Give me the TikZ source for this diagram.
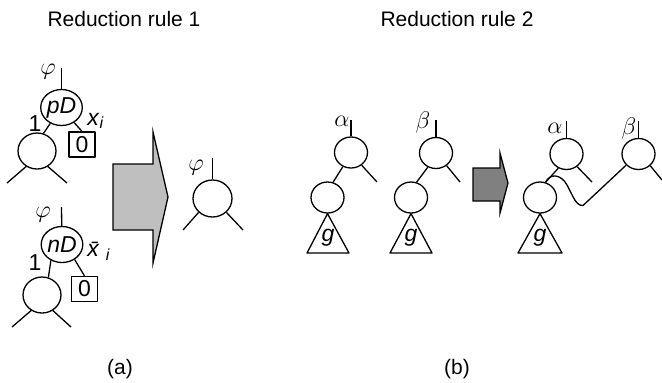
\documentclass[tikz,border=0pt]{standalone}
\usepackage{fontspec}
\setmainfont{Liberation Sans}
\usetikzlibrary{shapes.geometric}
\begin{document}
\begin{tikzpicture}[x=0.5pt,y=-0.5pt, line width=0.65pt, line join=round,
  every node/.style={font=\fontsize{10.5}{12}\selectfont, inner sep=0pt},
  lbl/.style={font=\fontsize{11.5}{12}\selectfont},
  bigc/.style={draw, ellipse, minimum width=19pt, minimum height=18pt, font=\fontsize{11.5}{12}\selectfont},
  smallc/.style={draw, ellipse, minimum width=16.5pt, minimum height=15.5pt},
  zbox/.style={draw, rectangle, minimum width=13pt, minimum height=12.5pt, font=\fontsize{11.5}{12}\selectfont},
  mlab/.style={font=\fontsize{13}{14}\selectfont},
  bigarrow/.style={draw, line join=miter}]
\useasboundingbox (0,0) rectangle (662,382);

% titles
\node (t1) at (124,19) {Reduction rule 1};
\node (t2) at (457,19) {Reduction rule 2};

% ---------- (a) top tree ----------
\coordinate (s1) at (61.5,68);
\node[bigc] (pd) at (61.5,107.5) {\textit{pD}};
\draw (s1) -- (pd);
\node[mlab] (phi1) at (48,72) {$\varphi$};
\node[bigc] (c1) at (37,151) {};
\draw (pd.235) -- (c1.70);
\node[lbl] (one1) at (35,124) {1};
\node[zbox] (b1) at (82,144.5) {0};
\draw (pd.310) -- (b1.north);
\node[lbl] (x1) at (96,121) {\textit{x}\textsubscript{\textit{i}}};
\coordinate (l1a) at (7,183);
\coordinate (l1b) at (67,183);
\draw (c1.235) -- (l1a);
\draw (c1.305) -- (l1b);

% ---------- (a) bottom tree ----------
\coordinate (s2) at (61.5,207);
\node[bigc] (nd) at (62,244.5) {\textit{nD}};
\draw (s2) -- (nd);
\node[mlab] (phi2) at (43,215) {$\varphi$};
\node[bigc] (c2) at (42,295) {};
\draw (nd.235) -- (c2.70);
\node[lbl] (one2) at (35,263) {1};
\node[zbox] (b2) at (84.5,289) {0};
\draw (nd.310) -- (b2.north);
\node[lbl] (x2) at (99,251) {\textit{\={x}}\,\textsubscript{\textit{i}}};
\coordinate (l2a) at (12,327);
\coordinate (l2b) at (71,327);
\draw (c2.235) -- (l2a);
\draw (c2.305) -- (l2b);

% big arrow 1
\draw[bigarrow, fill=black!25] (113,164) -- (153,164) -- (153,132) -- (168,197)
  -- (153,263) -- (153,230) -- (113,230) -- cycle;

% result tree (a)
\coordinate (s3) at (212.5,158);
\node[bigc, minimum width=19.5pt, minimum height=18.5pt] (r1) at (212.5,198.5) {};
\draw (s3) -- (r1);
\node[mlab] (phi3) at (196,168) {$\varphi$};
\coordinate (l3a) at (183,230);
\coordinate (l3b) at (243,230);
\draw (r1.225) -- (l3a);
\draw (r1.315) -- (l3b);

\node (capa) at (120,369) {(a)};

% ---------- (b) tree alpha ----------
\coordinate (sa) at (351,120);
\node[smallc] (ta) at (351,152.5) {};
\draw (sa) -- (ta);
\node[mlab] (alpha1) at (342,121) {$\alpha$};
\coordinate (ra) at (377,182);
\draw (ta.310) -- (ra);
\node[smallc] (la) at (327.5,197.5) {};
\draw (ta.240) -- (la.70);
\coordinate (tal) at (307,253);
\coordinate (tar) at (349,253);
\draw (la.south) -- (tal) -- (tar) -- cycle;
\node[lbl] (ga) at (328,238) {\textit{g}};

% ---------- (b) tree beta ----------
\coordinate (sb) at (436,120);
\node[smallc] (tb) at (436,153) {};
\draw (sb) -- (tb);
\node[mlab] (beta1) at (423,122) {$\beta$};
\coordinate (rb) at (460,182);
\draw (tb.310) -- (rb);
\node[smallc] (lb) at (411,197.5) {};
\draw (tb.240) -- (lb.70);
\coordinate (tbl) at (390,253);
\coordinate (tbr) at (432,253);
\draw (lb.south) -- (tbl) -- (tbr) -- cycle;
\node[lbl] (gb) at (411,238) {\textit{g}};

% big arrow 2
\draw[bigarrow, fill=black!50] (473,168) -- (500,168) -- (500,153) -- (508,183)
  -- (500,213) -- (500,201) -- (473,201) -- cycle;

% ---------- (b) result ----------
\coordinate (sc) at (566.5,121);
\node[smallc] (tc) at (566.5,154) {};
\draw (sc) -- (tc);
\node[mlab] (alpha2) at (555,128) {$\alpha$};
\coordinate (rc) at (592,182);
\draw (tc.310) -- (rc);
\node[smallc] (lc) at (540,197.5) {};
\draw (tc.240) -- (lc.70);
\coordinate (tcl) at (518,253);
\coordinate (tcr) at (562,253);
\draw (lc.south) -- (tcl) -- (tcr) -- cycle;
\node[lbl] (gc) at (540,238) {\textit{g}};

\coordinate (sd) at (638.5,121);
\node[smallc] (td) at (638.5,154) {};
\draw (sd) -- (td);
\node[mlab] (beta2) at (629,128) {$\beta$};
\coordinate (rd) at (662,180);
\draw (td.315) -- (rd);

\draw (lc.70) .. controls (550,173) and (561,174) .. (567,185)
  .. controls (573,196) and (576,206) .. (583,205.5) -- (td.222);

\node (capb) at (457,369) {(b)};
\end{tikzpicture}
\end{document}
